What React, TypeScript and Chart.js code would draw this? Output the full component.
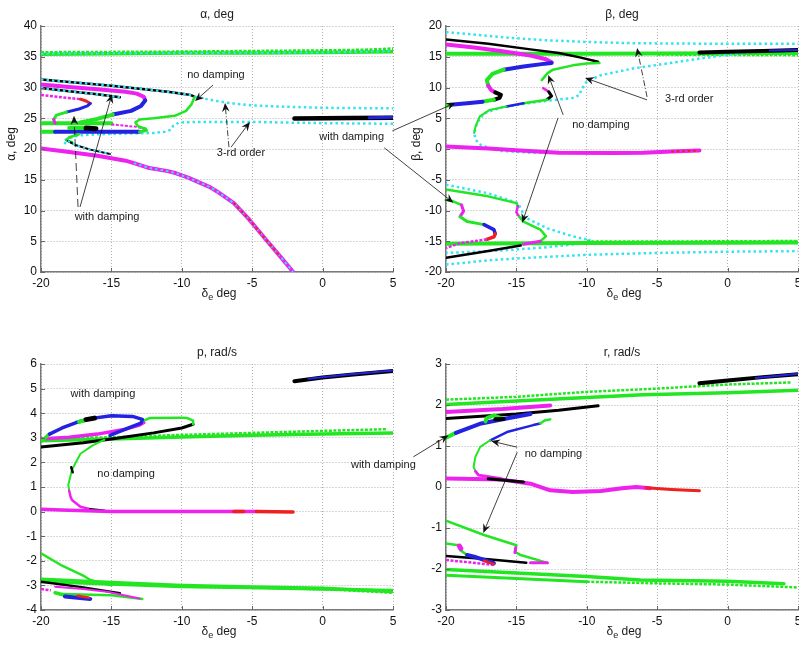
import { useEffect, useRef } from 'react';
import { Chart, registerables } from 'chart.js';

Chart.register(...registerables);

type P = [number, number];

// ---------- shared axis ticks ----------
const elevatorTicks = [-20, -15, -10, -5, 0, 5];
const alphaTicks = [0, 5, 10, 15, 20, 25, 30, 35, 40];
const betaTicks = [-20, -15, -10, -5, 0, 5, 10, 15, 20];
const pTicks = [-4, -3, -2, -1, 0, 1, 2, 3, 4, 5, 6];
const rTicks = [-3, -2, -1, 0, 1, 2, 3];

// ---------- α, deg ----------
const alphaGreenTop: P[] = [[-20, 35.4], [-15, 35.5], [-10, 35.6], [-5, 35.6], [0, 35.7], [5, 35.8]];
const alphaGreenTopRings: P[] = [[-20, 35.7], [-10, 35.8], [-5, 35.9], [0, 36.0], [3, 36.1], [5, 36.3]];
const alphaCyanTop: P[] = [[-20, 35.5], [-10, 35.6], [0, 35.7], [5, 35.9]];
const alphaBlackUpper: P[] = [[-20, 31.3], [-17, 30.7], [-15, 30.3], [-13, 29.8], [-11, 29.3], [-10, 29.0], [-9.4, 28.8], [-9.1, 28.5]];
const alphaCyanUpperRight: P[] = [[-9.1, 28.5], [-8, 28.0], [-7, 27.6], [-6, 27.3], [-5, 27.1], [-3, 26.9], [0, 26.7], [5, 26.6]];
const alphaBlackSecond: P[] = [[-20, 29.9], [-18, 29.4], [-16, 28.9], [-14.4, 28.4]];
const alphaMagentaUpper: P[] = [[-20, 30.5], [-18, 30.1], [-16, 29.7], [-14, 29.3], [-13.2, 29.0], [-12.7, 28.5], [-12.6, 27.9]];
const alphaBlueFold: P[] = [[-12.6, 27.9], [-12.9, 27.0], [-13.6, 26.2], [-14.9, 25.6]];
const alphaGreenFold: P[] = [[-14.9, 25.6], [-16, 24.9], [-17.2, 24.3]];
const alphaGreenFlat: P[] = [[-20, 24.2], [-15, 24.2]];
const alphaMagentaRings: P[] = [[-20, 28.8], [-18.5, 28.4], [-17.2, 28.1]];
const alphaRedTip: P[] = [[-17.2, 28.1], [-16.8, 27.8], [-16.5, 27.4]];
const alphaBlueSmall: P[] = [[-16.5, 27.4], [-16.7, 27.0], [-17.3, 26.5], [-18.2, 26.0]];
const alphaGreenSmall: P[] = [[-18.2, 26.0], [-18.9, 25.5], [-19.1, 24.8]];
const alphaMagentaSmall: P[] = [[-19.1, 24.8], [-19.0, 24.2]];
const alphaCyanLower: P[] = [[5, 24.1], [0, 24.2], [-5, 24.4], [-9, 24.4], [-10.2, 24.3], [-10.6, 23.8], [-10.8, 23.1], [-11.2, 22.8], [-12, 22.6], [-14, 22.5], [-16, 22.4], [-17.3, 22.2], [-18.2, 21.6], [-18.4, 21.1], [-18.1, 20.7]];
const alphaGreenLow: P[] = [[-20, 22.8], [-19, 22.8]];
const alphaBlueLow: P[] = [[-19, 22.8], [-13, 22.8]];
const alphaGreenLowTip: P[] = [[-13, 22.8], [-12.5, 23.0], [-12.6, 23.3]];
const alphaGreenMid: P[] = [[-18, 23.4], [-16.8, 23.4]];
const alphaBlackBlob: P[] = [[-16.8, 23.4], [-16.1, 23.3]];
const alphaMagentaFaint: P[] = [[-15, 24.0], [-13.2, 23.6], [-12.6, 23.2]];
const alphaGreenS: P[] = [[-9.1, 28.4], [-9.3, 27.3], [-9.7, 26.2], [-10.5, 25.4], [-12, 25.0], [-13, 24.8], [-13.3, 24.3], [-13.1, 23.7], [-12.6, 23.3]];
const alphaGreenLeftFold: P[] = [[-17.3, 22.4], [-18, 21.9], [-18.2, 21.4], [-17.8, 21.1]];
const alphaBlackLower: P[] = [[-18.1, 21.3], [-17.5, 20.6], [-16.5, 19.9], [-15.1, 19.2]];
const alphaMagentaMain: P[] = [[-20, 20.1], [-18, 19.5], [-16, 18.9], [-15, 18.5], [-14, 18.1], [-13.4, 17.7], [-12.3, 16.9], [-11, 16.4], [-10.4, 16.05], [-9.5, 15.3], [-8.9, 14.7], [-8, 13.8], [-7.5, 13.1], [-6.3, 11.2], [-5.2, 8.5], [-4, 5.2], [-3, 2.5], [-2.1, 0.05]];
const alphaBlackRight: P[] = [[-2, 24.95], [0, 25.0], [2, 25.05], [5, 25.1]];
const alphaBlueRightTip: P[] = [[3.3, 25.1], [5, 25.15]];

// ---------- β, deg ----------
const betaCyanTop: P[] = [[-20, 19.0], [-17, 18.4], [-15, 18.0], [-13, 17.7], [-10, 17.4], [-6.7, 17.2], [0, 17.1], [5, 17.1]];
const betaGreenBand: P[] = [[-20, 15.5], [-10, 15.5], [0, 15.55], [5, 15.6]];
const betaGreenBandRings: P[] = [[-5, 15.4], [0, 15.35], [5, 15.3]];
const betaCyanFold: P[] = [[5, 16.2], [2, 15.8], [0, 15.3], [-2, 14.7], [-4.3, 13.9], [-6.7, 13.1], [-9, 12.0], [-10, 11.0], [-10.4, 9.6], [-10.5, 8.8], [-11, 8.3], [-12.6, 7.9], [-14, 7.5], [-16, 6.8], [-17.3, 5.8], [-17.8, 4.2], [-18, 2.6], [-17.9, 1.5], [-17.5, 0.6], [-16.2, -0.3], [-14, -0.6], [-10, -0.6], [-6, -0.65], [-2, -0.2]];
const betaBlackUpper: P[] = [[-20, 17.8], [-17, 17.1], [-14, 16.2], [-12, 15.6], [-10.5, 14.9], [-9.2, 14.2]];
const betaBlackRight: P[] = [[-2, 15.7], [0, 15.8], [2.5, 15.95], [5, 16.1]];
const betaBlueRight: P[] = [[3, 16.0], [5, 16.1]];
const betaMagentaUpper: P[] = [[-20, 17.0], [-18, 16.5], [-16, 15.9], [-14, 15.2], [-12.9, 14.6], [-12.5, 14.1]];
const betaBlueUpper: P[] = [[-12.5, 14.0], [-13.2, 13.8], [-14.5, 13.4], [-15.9, 12.9]];
const betaGreenUpper: P[] = [[-15.9, 12.9], [-16.7, 12.2], [-17.1, 11.2], [-17.0, 10.3]];
const betaMagentaMid: P[] = [[-17.0, 10.3], [-16.8, 9.6], [-16.5, 9.2]];
const betaBlackMid: P[] = [[-16.5, 9.2], [-16.1, 8.8], [-16.2, 8.3], [-16.6, 8.0]];
const betaGreenMid: P[] = [[-16.6, 8.0], [-17.4, 7.7]];
const betaBlueMid: P[] = [[-17.4, 7.7], [-18.5, 7.45], [-19.7, 7.2]];
const betaGreenMidEnd: P[] = [[-19.7, 7.2], [-20, 7.0]];
const betaGreenNoDampUpper: P[] = [[-9.1, 14.0], [-10, 13.9], [-11, 13.6], [-12.4, 12.9], [-12.8, 12.3], [-13.2, 11.2]];
const betaMagentaNoDamp: P[] = [[-13.1, 9.9], [-12.7, 9.3]];
const betaBlackNoDamp: P[] = [[-12.7, 9.3], [-12.5, 8.6], [-12.8, 8.1]];
const betaGreenNoDampLower: P[] = [[-12.8, 8.0], [-14.5, 7.45]];
const betaBlueNoDamp: P[] = [[-14.5, 7.45], [-15.7, 6.9]];
const betaGreenNoDampLeft: P[] = [[-15.7, 6.9], [-16.9, 6.35], [-17.6, 5.3], [-17.9, 3.7], [-18.0, 2.6]];
const betaMagentaCenter: P[] = [[-20, 0.4], [-17, 0.1], [-15, -0.2], [-12, -0.6], [-8, -0.65], [-6, -0.6], [-4, -0.4], [-2, -0.25]];
const betaCyanLowFold: P[] = [[-20, -5.8], [-17, -7.2], [-14.9, -8.8], [-14.6, -10.0], [-14.5, -11.0], [-12.8, -12.9], [-11, -14.2], [-9.8, -14.8], [-10.5, -15.4], [-13, -16.0], [-16, -16.5], [-20, -16.9]];
const betaCyanBottom: P[] = [[-20, -18.8], [-17, -18.1], [-15, -17.8], [-10, -17.2], [-5, -16.9], [0, -16.7], [5, -16.6]];
const betaGreenLowBand: P[] = [[-20, -15.4], [-10, -15.3], [0, -15.25], [5, -15.2]];
const betaGreenLowRings: P[] = [[-10, -15.1], [0, -15.05], [5, -15.0]];
const betaBlackLow: P[] = [[-20, -17.7], [-17, -16.6], [-14.7, -15.7]];
const betaGreenLowNoDamp1: P[] = [[-20, -6.6], [-17, -7.7], [-15, -8.8], [-14.9, -9.3]];
const betaMagentaLowNoDamp1: P[] = [[-14.9, -9.3], [-15.0, -10.3], [-14.8, -11.0]];
const betaGreenLowNoDamp2: P[] = [[-14.8, -11.0], [-14.5, -11.8], [-13.3, -13.1], [-12.9, -14.2], [-13.3, -15.0]];
const betaMagentaLowNoDamp2: P[] = [[-13.3, -15.0], [-14.5, -15.5]];
const betaGreenWith1: P[] = [[-20, -8.3], [-19.5, -8.5], [-18.9, -9.1]];
const betaMagentaWith1: P[] = [[-18.9, -9.1], [-18.75, -10.1], [-19.0, -11.0]];
const betaGreenWith2: P[] = [[-19.0, -11.0], [-18.5, -11.8], [-17.3, -12.3]];
const betaBlueWith: P[] = [[-17.3, -12.3], [-16.6, -13.1], [-16.5, -13.8]];
const betaRedWith: P[] = [[-16.5, -13.8], [-16.6, -14.3], [-17.1, -14.7]];
const betaMagentaWithRings: P[] = [[-17.1, -14.7], [-19, -15.3], [-20, -16.1]];

// ---------- p, rad/s ----------
const pBlackRight: P[] = [[-2, 5.3], [0, 5.45], [2, 5.56], [5, 5.72]];
const pBlueRight: P[] = [[-1, 5.4], [2, 5.58], [5, 5.74]];
const pGreenBand: P[] = [[-20, 2.88], [-15, 2.95], [-10, 3.03], [-5, 3.1], [0, 3.15], [5, 3.2]];
const pGreenRings: P[] = [[-20, 2.98], [-15, 3.02], [-10, 3.12], [0, 3.28], [4.5, 3.35]];
const pBlackUpper: P[] = [[-20, 2.63], [-17, 2.8], [-15, 2.95], [-12, 3.2], [-10, 3.4], [-9.2, 3.55]];
const pGreenLoop: P[] = [[-9.2, 3.55], [-9.2, 3.7], [-9.6, 3.8], [-10.1, 3.82], [-12.3, 3.8], [-12.7, 3.7]];
const pGreenLoopStart: P[] = [[-20, 2.85], [-19.4, 3.15]];
const pBlueLoop: P[] = [[-19.4, 3.15], [-18.5, 3.4], [-17.5, 3.62], [-16.5, 3.78], [-15, 3.9], [-13.5, 3.87], [-12.8, 3.75], [-12.9, 3.6], [-14, 3.35], [-15.1, 3.1]];
const pGreenBlob: P[] = [[-17.3, 3.65], [-16.8, 3.72]];
const pBlackBlob: P[] = [[-16.8, 3.74], [-16.2, 3.8]];
const pMagentaUpper: P[] = [[-20, 2.95], [-18, 3.02], [-16, 3.15], [-14, 3.35], [-13, 3.52], [-12.7, 3.62]];
const pGreenNoDamp: P[] = [[-15.5, 2.92], [-16.3, 2.7], [-17.2, 2.35], [-17.8, 1.7], [-18.06, 1.08], [-18.0, 0.85]];
const pMagentaNoDamp: P[] = [[-18.0, 0.85], [-17.9, 0.6], [-17.8, 0.47], [-17.2, 0.2], [-16.5, 0.1]];
const pBlackNoDamp: P[] = [[-16.5, 0.1], [-15.5, 0.03]];
const pMagentaZero: P[] = [[-20, 0.1], [-18, 0.05], [-15, 0.0], [-10, 0.0], [-6.3, 0.0], [-4.7, 0.0]];
const pRedZeroA: P[] = [[-6.3, 0.0], [-5.6, 0.0]];
const pRedZeroB: P[] = [[-4.7, 0.0], [-2.1, -0.02]];
const pGreenDiag: P[] = [[-20, -1.7], [-18.5, -2.2], [-17, -2.6], [-16.5, -2.78], [-15, -3.0]];
const pGreenLowBand: P[] = [[-20, -2.75], [-15, -2.88], [-10, -3.0], [-5, -3.07], [0, -3.12], [5, -3.25]];
const pGreenLowBand2: P[] = [[-20, -2.85], [-15, -2.95], [-10, -3.05], [-5, -3.1], [0, -3.16], [5, -3.2]];
const pGreenLowRings: P[] = [[-10, -3.05], [-5, -3.1], [0, -3.15], [5, -3.3]];
const pBlackLow: P[] = [[-20, -2.85], [-17, -3.08], [-14.4, -3.32]];
const pGreenUnder: P[] = [[-18.5, -3.35], [-15, -3.4], [-12.8, -3.55]];
const pMagentaLow: P[] = [[-19, -3.05], [-17, -3.15], [-15.3, -3.26], [-13, -3.53]];
const pMagentaRingsLow: P[] = [[-20, -3.15], [-19.3, -3.2]];
const pGreenCluster: P[] = [[-19, -3.3], [-18.3, -3.4]];
const pBlueCluster: P[] = [[-18.3, -3.45], [-16.5, -3.55]];
const pRedCluster: P[] = [[-17.4, -3.42], [-16.6, -3.5]];

// ---------- r, rad/s ----------
const rBlackRight: P[] = [[-2, 2.53], [0, 2.6], [2.5, 2.68], [5, 2.75]];
const rBlueRight: P[] = [[2, 2.66], [5, 2.76]];
const rGreenRings: P[] = [[-20, 2.13], [-15, 2.2], [-10, 2.32], [-5, 2.4], [0, 2.5], [4.5, 2.55]];
const rGreenSolid: P[] = [[-20, 2.01], [-15, 2.1], [-10, 2.18], [-6, 2.25], [0, 2.3], [5, 2.36]];
const rMagentaUpper: P[] = [[-20, 1.83], [-16, 1.9], [-12.6, 1.99]];
const rBlackUpper: P[] = [[-20, 1.67], [-15, 1.78], [-12, 1.87], [-9.2, 1.98]];
const rGreenLoop: P[] = [[-17.2, 1.6], [-17.1, 1.68], [-16.6, 1.75], [-16.1, 1.68]];
const rBlackBlob: P[] = [[-16.5, 1.65], [-15.9, 1.66]];
const rGreenWithStart: P[] = [[-20, 1.2], [-19.3, 1.32]];
const rBlueWith: P[] = [[-19.3, 1.32], [-17.5, 1.55], [-15.7, 1.67], [-14, 1.78]];
const rGreenNoDampTip: P[] = [[-13.3, 1.55], [-13.0, 1.62], [-12.6, 1.65]];
const rBlueNoDamp: P[] = [[-13.3, 1.55], [-13.8, 1.51], [-15.67, 1.34], [-16.86, 1.14]];
const rGreenNoDamp: P[] = [[-16.86, 1.14], [-17.57, 0.98], [-17.92, 0.73], [-18.04, 0.49], [-17.9, 0.38]];
const rMagentaNoDamp: P[] = [[-17.9, 0.38], [-17.69, 0.29], [-16.15, 0.21]];
const rMagentaCenter: P[] = [[-20, 0.21], [-16, 0.18], [-14, 0.08], [-12.6, -0.08], [-11, -0.12], [-9, -0.1], [-7.5, -0.03], [-6.5, 0.0], [-5.5, -0.03]];
const rRedCenter: P[] = [[-5.8, -0.02], [-4, -0.06], [-2, -0.09]];
const rBlackCenter: P[] = [[-17, 0.2], [-14.5, 0.12]];
const rGreenNoDampLow: P[] = [[-20, -0.82], [-17.3, -1.17], [-15, -1.42], [-15.1, -1.58], [-14.7, -1.66], [-12.8, -1.85]];
const rMagentaNoDampLow: P[] = [[-15.05, -1.48], [-15.1, -1.6]];
const rMagentaNoDampEnd: P[] = [[-14, -1.85], [-12.8, -1.85]];
const rGreenWithLow: P[] = [[-20, -1.38], [-19.1, -1.42], [-18.99, -1.54], [-18.5, -1.66]];
const rMagentaBlob: P[] = [[-19.05, -1.44], [-18.95, -1.5]];
const rBlueWithLow: P[] = [[-18.5, -1.66], [-18, -1.7], [-16.6, -1.86]];
const rRedWithLow: P[] = [[-17.3, -1.8], [-16.6, -1.88]];
const rBlackLow: P[] = [[-20, -1.68], [-17, -1.76], [-14.3, -1.85]];
const rMagentaRingsLow: P[] = [[-20, -1.78], [-16.6, -1.9]];
const rGreenBandLow: P[] = [[-20, -2.01], [-15, -2.1], [-10, -2.18], [-6.2, -2.27], [0, -2.3], [4, -2.36]];
const rGreenBandLow2: P[] = [[-20, -2.15], [-15, -2.23], [-10, -2.31]];
const rGreenRingsLow: P[] = [[-10, -2.31], [-5, -2.35], [0, -2.38], [5, -2.45]];

// ---------- styling ----------
const GREEN = '#22e622';
const MAGENTA = '#ee22ee';
const BLUE = '#2222e0';
const BLACK = '#000000';
const RED = '#ee2020';
const CYAN = '#33e3f3';

type Style = 'solid' | 'dot' | 'ring';
type Curve = [P[], string, number, Style?];

interface Arrow { from: P; to: P; dash?: number[] }
interface Note { text?: string; at?: P; arrows: Arrow[] }

interface Panel {
  rect: [number, number, number, number];
  yMin: number;
  yMax: number;
  yTicks: number[];
  title: string;
  yLabel?: string;
  curves: Curve[];
  notes: Note[];
}

const CW = 830;
const CH = 646;
const YW = 30;
const XH = 20;
const TEXT_FONT = '"Liberation Sans", Arial, sans-serif';

const alphaPanel: Panel = {
  rect: [41, 26, 393, 272],
  yMin: 0,
  yMax: 40,
  yTicks: alphaTicks,
  title: 'α, deg',
  yLabel: 'α, deg',
  curves: [
    [alphaGreenTopRings, GREEN, 3, 'ring'],
    [alphaGreenTop, GREEN, 3.5],
    [alphaCyanTop, CYAN, 2, 'dot'],
    [alphaBlackUpper, BLACK, 2.5],
    [alphaBlackUpper, CYAN, 2.5, 'dot'],
    [alphaCyanUpperRight, CYAN, 2.5, 'dot'],
    [alphaBlackSecond, BLACK, 2.5],
    [alphaBlackSecond, CYAN, 2.5, 'dot'],
    [alphaMagentaUpper, MAGENTA, 4],
    [alphaBlueFold, BLUE, 4],
    [alphaGreenFold, GREEN, 4],
    [alphaGreenFlat, GREEN, 4],
    [alphaMagentaRings, MAGENTA, 2.5, 'ring'],
    [alphaRedTip, RED, 3],
    [alphaBlueSmall, BLUE, 3],
    [alphaGreenSmall, GREEN, 3],
    [alphaMagentaSmall, MAGENTA, 3],
    [alphaCyanLower, CYAN, 2.5, 'dot'],
    [alphaGreenLow, GREEN, 4],
    [alphaBlueLow, BLUE, 4],
    [alphaGreenLowTip, GREEN, 3],
    [alphaGreenMid, GREEN, 4],
    [alphaBlackBlob, BLACK, 5],
    [alphaMagentaFaint, MAGENTA, 2, 'ring'],
    [alphaGreenS, GREEN, 2.5],
    [alphaGreenLeftFold, GREEN, 2.5],
    [alphaBlackLower, BLACK, 2],
    [alphaBlackLower, CYAN, 2, 'dot'],
    [alphaMagentaMain, MAGENTA, 4],
    [alphaMagentaMain.filter(p => p[0] >= -13.4), CYAN, 2, 'dot'],
    [alphaMagentaMain.filter(p => p[0] >= -6.3 && p[0] <= -3), RED, 2, 'dot'],
    [alphaBlackRight, BLACK, 4.5],
    [alphaBlueRightTip, BLUE, 3],
  ],
  notes: [
    { text: 'no damping', at: [-7.58, 32.0], arrows: [{ from: [-7.78, 30.4], to: [-9.06, 27.8] }] },
    {
      text: '3-rd order', at: [-5.8, 19.35], arrows: [
        { from: [-6.65, 20.3], to: [-6.93, 27.5], dash: [6, 2, 1, 2] },
        { from: [-6.5, 20.3], to: [-5.16, 24.4] },
      ],
    },
    {
      text: 'with damping', at: [-15.31, 8.94], arrows: [
        { from: [-17.37, 10.57], to: [-17.66, 25.4], dash: [8, 4] },
        { from: [-17.23, 10.57], to: [-14.96, 28.9] },
      ],
    },
  ],
};

const betaPanel: Panel = {
  rect: [446, 26, 798, 272],
  yMin: -20,
  yMax: 20,
  yTicks: betaTicks,
  title: 'β, deg',
  yLabel: 'β, deg',
  curves: [
    [betaCyanTop, CYAN, 2.5, 'dot'],
    [betaGreenBandRings, GREEN, 3, 'ring'],
    [betaGreenBand, GREEN, 4],
    [betaCyanFold, CYAN, 2.5, 'dot'],
    [betaBlackUpper, BLACK, 2.5],
    [betaBlackRight, BLACK, 4],
    [betaBlueRight, BLUE, 2],
    [betaMagentaUpper, MAGENTA, 4],
    [betaBlueUpper, BLUE, 4],
    [betaGreenUpper, GREEN, 4],
    [betaMagentaMid, MAGENTA, 4],
    [betaBlackMid, BLACK, 4],
    [betaGreenMid, GREEN, 4],
    [betaBlueMid, BLUE, 4],
    [betaGreenMidEnd, GREEN, 4],
    [betaGreenNoDampUpper, GREEN, 2.5],
    [betaMagentaNoDamp, MAGENTA, 2.5],
    [betaBlackNoDamp, BLACK, 3],
    [betaGreenNoDampLower, GREEN, 2.5],
    [betaBlueNoDamp, BLUE, 2.5],
    [betaGreenNoDampLeft, GREEN, 2],
    [betaMagentaCenter, MAGENTA, 4],
    [betaMagentaCenter.filter(p => p[0] >= -4), RED, 2, 'dot'],
    [betaCyanLowFold, CYAN, 2.5, 'dot'],
    [betaCyanBottom, CYAN, 2.5, 'dot'],
    [betaGreenLowBand, GREEN, 4],
    [betaGreenLowRings, GREEN, 3, 'ring'],
    [betaBlackLow, BLACK, 2.5],
    [betaGreenLowNoDamp1, GREEN, 2.5],
    [betaMagentaLowNoDamp1, MAGENTA, 2.5],
    [betaGreenLowNoDamp2, GREEN, 2.5],
    [betaMagentaLowNoDamp2, MAGENTA, 3],
    [betaGreenWith1, GREEN, 2.5],
    [betaMagentaWith1, MAGENTA, 3],
    [betaGreenWith2, GREEN, 3],
    [betaBlueWith, BLUE, 3.5],
    [betaRedWith, RED, 3.5],
    [betaMagentaWithRings, MAGENTA, 2.5, 'ring'],
  ],
  notes: [
    {
      text: '3-rd order', at: [-2.73, 8.15], arrows: [
        { from: [-5.72, 8.47], to: [-6.43, 16.43], dash: [6, 2, 1, 2] },
        { from: [-5.72, 7.99], to: [-10.12, 11.56] },
      ],
    },
    {
      text: 'no damping', at: [-9.0, 3.93], arrows: [
        { from: [-11.68, 5.55], to: [-12.74, 12.05] },
        { from: [-12.04, 5.06], to: [-14.59, -11.98] },
      ],
    },
    {
      text: 'with damping', at: [-26.7, 2.03], arrows: [
        { from: [-23.81, 2.95], to: [-19.34, 7.5] },
        { from: [-24.38, 0.19], to: [-19.48, -8.73] },
      ],
    },
  ],
};

const pPanel: Panel = {
  rect: [41, 364, 393, 610],
  yMin: -4,
  yMax: 6,
  yTicks: pTicks,
  title: 'p, rad/s',
  curves: [
    [pGreenRings, GREEN, 2.5, 'ring'],
    [pGreenBand, GREEN, 3.5],
    [pBlackUpper, BLACK, 3],
    [pMagentaUpper, MAGENTA, 3.5],
    [pGreenLoop, GREEN, 2.5],
    [pGreenLoopStart, GREEN, 3.5],
    [pBlueLoop, BLUE, 3.5],
    [pGreenBlob, GREEN, 4],
    [pBlackBlob, BLACK, 5],
    [pBlackRight, BLACK, 4],
    [pBlueRight, BLUE, 2],
    [pGreenNoDamp, GREEN, 2],
    [[[-17.85, 1.8], [-17.75, 1.6]], BLACK, 2.5],
    [pMagentaNoDamp, MAGENTA, 2.5],
    [pBlackNoDamp, BLACK, 2.5],
    [pMagentaZero, MAGENTA, 3.5],
    [pRedZeroA, RED, 3.5],
    [pRedZeroB, RED, 3.5],
    [pGreenDiag, GREEN, 2.5],
    [pGreenLowBand2, GREEN, 3],
    [pGreenLowBand, GREEN, 3.5],
    [pGreenLowRings, GREEN, 2.5, 'ring'],
    [pBlackLow, BLACK, 2.5],
    [pGreenUnder, GREEN, 2.5],
    [pMagentaLow, MAGENTA, 2],
    [pMagentaRingsLow, MAGENTA, 2.5, 'ring'],
    [pGreenCluster, GREEN, 3.5],
    [pBlueCluster, BLUE, 4],
    [pRedCluster, RED, 2.5],
  ],
  notes: [
    { text: 'with damping', at: [-15.6, 4.77], arrows: [] },
    { text: 'no damping', at: [-13.96, 1.52], arrows: [] },
  ],
};

const rPanel: Panel = {
  rect: [446, 364, 798, 610],
  yMin: -3,
  yMax: 3,
  yTicks: rTicks,
  title: 'r, rad/s',
  curves: [
    [rGreenRings, GREEN, 2.5, 'ring'],
    [rGreenSolid, GREEN, 3.5],
    [rBlackRight, BLACK, 4],
    [rBlueRight, BLUE, 2],
    [rMagentaUpper, MAGENTA, 4],
    [rBlackUpper, BLACK, 3],
    [rGreenWithStart, GREEN, 4],
    [rBlueWith, BLUE, 4],
    [rGreenLoop, GREEN, 4],
    [rBlackBlob, BLACK, 4],
    [rBlueNoDamp, BLUE, 2.5],
    [rGreenNoDampTip, GREEN, 2.5],
    [rGreenNoDamp, GREEN, 2],
    [rMagentaNoDamp, MAGENTA, 3],
    [rMagentaCenter, MAGENTA, 4],
    [rRedCenter, RED, 3],
    [rBlackCenter, BLACK, 3],
    [rGreenNoDampLow, GREEN, 2.5],
    [rMagentaNoDampLow, MAGENTA, 3],
    [rMagentaNoDampEnd, MAGENTA, 3],
    [rBlackLow, BLACK, 2.5],
    [rMagentaRingsLow, MAGENTA, 2.5, 'ring'],
    [rGreenWithLow, GREEN, 2.5],
    [rMagentaBlob, MAGENTA, 5],
    [rBlueWithLow, BLUE, 4],
    [rRedWithLow, RED, 2.5],
    [rGreenBandLow2, GREEN, 3],
    [rGreenBandLow, GREEN, 3.5],
    [rGreenRingsLow, GREEN, 2.5, 'ring'],
  ],
  notes: [
    {
      text: 'no damping', at: [-12.37, 0.817], arrows: [
        { from: [-14.94, 0.97], to: [-16.79, 1.12] },
        { from: [-14.94, 0.85], to: [-17.35, -1.12] },
      ],
    },
    {
      text: 'with damping', at: [-24.45, 0.532], arrows: [
        { from: [-22.32, 0.735], to: [-19.82, 1.26] },
      ],
    },
  ],
};

const panels: Panel[] = [alphaPanel, betaPanel, pPanel, rPanel];

// ---------- drawing helpers ----------
function drawArrow(ctx: CanvasRenderingContext2D, x1: number, y1: number, x2: number, y2: number, dash?: number[]) {
  const ang = Math.atan2(y2 - y1, x2 - x1);
  const c = Math.cos(ang);
  const s = Math.sin(ang);
  const L = 9;
  const W = 3.8;
  const back = 6;
  ctx.setLineDash(dash || []);
  ctx.beginPath();
  ctx.moveTo(x1, y1);
  ctx.lineTo(x2 - back * c, y2 - back * s);
  ctx.stroke();
  ctx.setLineDash([]);
  ctx.beginPath();
  ctx.moveTo(x2, y2);
  ctx.lineTo(x2 - L * c + W * s, y2 - L * s - W * c);
  ctx.lineTo(x2 - back * c, y2 - back * s);
  ctx.lineTo(x2 - L * c - W * s, y2 - L * s + W * c);
  ctx.closePath();
  ctx.fill();
}

function decorPlugin(panel: Panel) {
  return {
    id: 'panelDecor',
    afterDraw(chart: any) {
      const { ctx, chartArea: a, scales } = chart;
      const xs = scales.x;
      const ys = scales.y;
      ctx.save();

      // inward tick marks on the left and bottom axes
      ctx.strokeStyle = '#666';
      ctx.lineWidth = 1;
      for (const v of panel.yTicks) {
        const py = Math.round(ys.getPixelForValue(v)) + 0.5;
        ctx.beginPath();
        ctx.moveTo(a.left, py);
        ctx.lineTo(a.left + 4, py);
        ctx.stroke();
      }
      for (const v of elevatorTicks) {
        const px = Math.round(xs.getPixelForValue(v)) + 0.5;
        ctx.beginPath();
        ctx.moveTo(px, a.bottom);
        ctx.lineTo(px, a.bottom - 4);
        ctx.stroke();
      }

      ctx.fillStyle = '#1a1a1a';
      ctx.textBaseline = 'middle';
      ctx.textAlign = 'center';
      const cx = (a.left + a.right) / 2;

      // title
      ctx.font = `12px ${TEXT_FONT}`;
      ctx.fillText(panel.title, cx, a.top - 11);

      // x-axis label: δ with subscript e, then "deg"
      const main = `12px ${TEXT_FONT}`;
      const sub = `9px ${TEXT_FONT}`;
      ctx.textAlign = 'left';
      ctx.font = main;
      const wd = ctx.measureText('δ').width;
      const wr = ctx.measureText(' deg').width;
      ctx.font = sub;
      const we = ctx.measureText('e').width;
      let lx = cx - (wd + we + wr) / 2 + 2;
      const ly = a.bottom + 22;
      ctx.font = main;
      ctx.fillText('δ', lx, ly);
      lx += wd;
      ctx.font = sub;
      ctx.fillText('e', lx, ly + 4);
      lx += we;
      ctx.font = main;
      ctx.fillText(' deg', lx, ly);

      // y-axis label
      if (panel.yLabel) {
        ctx.save();
        ctx.translate(a.left - 29, (a.top + a.bottom) / 2 - 5);
        ctx.rotate(-Math.PI / 2);
        ctx.textAlign = 'center';
        ctx.font = main;
        ctx.fillText(panel.yLabel, 0, 0);
        ctx.restore();
      }

      // annotations
      ctx.textAlign = 'center';
      ctx.font = `11px ${TEXT_FONT}`;
      ctx.strokeStyle = '#111';
      ctx.fillStyle = '#111';
      ctx.lineWidth = 0.8;
      for (const n of panel.notes) {
        if (n.text && n.at) {
          ctx.fillStyle = '#1a1a1a';
          ctx.fillText(n.text, xs.getPixelForValue(n.at[0]), ys.getPixelForValue(n.at[1]));
          ctx.fillStyle = '#111';
        }
        for (const ar of n.arrows) {
          drawArrow(
            ctx,
            xs.getPixelForValue(ar.from[0]), ys.getPixelForValue(ar.from[1]),
            xs.getPixelForValue(ar.to[0]), ys.getPixelForValue(ar.to[1]),
            ar.dash,
          );
        }
      }
      ctx.restore();
    },
  };
}

function buildConfig(panel: Panel): any {
  const [l, t, r, b] = panel.rect;
  const n = panel.curves.length;
  const datasets = panel.curves.map(([pts, color, width, style], i) => ({
    data: pts.map(([x, y]) => ({ x, y })),
    showLine: true,
    borderColor: color,
    backgroundColor: color,
    borderWidth: width,
    borderDash: style === 'dot' ? [2.5, 3] : style === 'ring' ? [3, 1.5] : [],
    borderCapStyle: style ? 'butt' : 'round',
    borderJoinStyle: 'round',
    pointRadius: 0,
    tension: 0,
    order: n - i,
  }));
  const tickFont = { family: TEXT_FONT, size: 12 };
  return {
    type: 'scatter',
    data: { datasets },
    options: {
      responsive: false,
      animation: false,
      events: [],
      layout: { padding: { left: l - YW, top: t, right: CW - r, bottom: CH - b - XH } },
      plugins: { legend: { display: false }, tooltip: { enabled: false }, title: { display: false } },
      scales: {
        x: {
          type: 'linear',
          min: -20,
          max: 5,
          afterBuildTicks: (s: any) => { s.ticks = elevatorTicks.map(v => ({ value: v })); },
          afterFit: (s: any) => { s.height = XH; },
          grid: { color: '#b0b0b0', lineWidth: 1, drawTicks: false },
          border: { display: true, color: '#7a7a7a', width: 1.5, dash: [1, 2] },
          ticks: { color: '#111', font: tickFont, padding: 4, maxRotation: 0, autoSkip: false },
        },
        y: {
          type: 'linear',
          min: panel.yMin,
          max: panel.yMax,
          afterBuildTicks: (s: any) => { s.ticks = panel.yTicks.map(v => ({ value: v })); },
          afterFit: (s: any) => { s.width = YW; },
          grid: { color: '#b0b0b0', lineWidth: 1, drawTicks: false },
          border: { display: true, color: '#7a7a7a', width: 1.5, dash: [1, 2] },
          ticks: { color: '#111', font: tickFont, padding: 4, autoSkip: false },
        },
      },
    },
    plugins: [decorPlugin(panel)],
  };
}

function PanelChart({ panel }: { panel: Panel }) {
  const ref = useRef<HTMLCanvasElement>(null);
  useEffect(() => {
    const chart = new Chart(ref.current as HTMLCanvasElement, buildConfig(panel));
    return () => chart.destroy();
  }, [panel]);
  return (
    <canvas
      ref={ref}
      width={CW}
      height={CH}
      style={{ position: 'absolute', left: 0, top: 0, width: CW, height: CH }}
    />
  );
}

export default function App() {
  return (
    <div
      style={{
        position: 'absolute',
        left: 0,
        top: 0,
        width: 799,
        height: 646,
        overflow: 'hidden',
        background: '#ffffff',
      }}
    >
      {panels.map((p, i) => <PanelChart key={i} panel={p} />)}
    </div>
  );
}
